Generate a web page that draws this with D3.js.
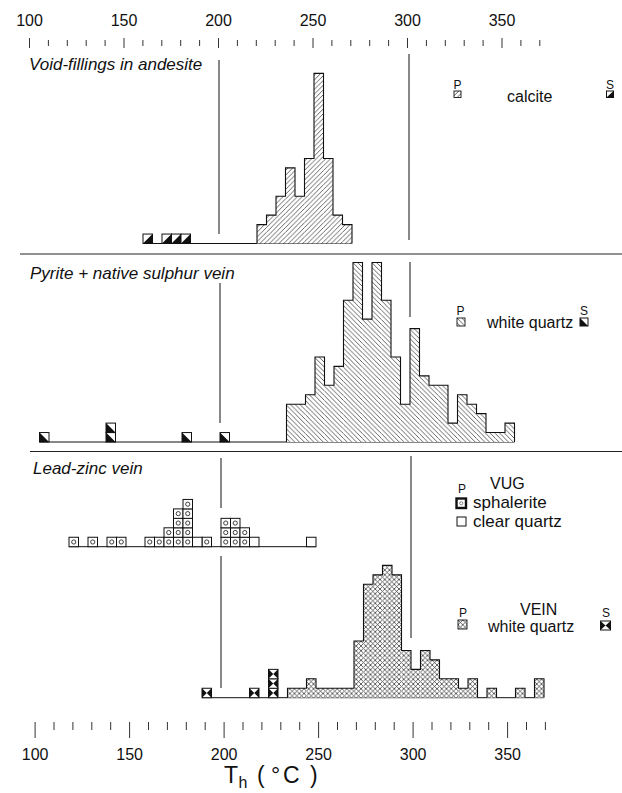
<!DOCTYPE html>
<html>
<head>
<meta charset="utf-8">
<script src="https://cdn.jsdelivr.net/npm/d3@7"></script>
<style>
body { margin: 0; background: #fff; }
text { font-family: "Liberation Sans", Arial, Helvetica, sans-serif; fill: #111; }
</style>
</head>
<body>
<script>
// homogenisation temperatures, 5 degC bins, counts = number of inclusions
const binW = 5;

// void-fillings in andesite (calcite)
const calciteP_T = [220, 225, 230, 235, 240, 245, 250, 255, 260, 265];
const calciteP_n = [2, 3, 5, 8, 5, 9, 18, 9, 3, 2];
const calciteS_T = [160, 170, 175, 180];
const calciteS_n = [1, 1, 1, 1];

// pyrite + native sulphur vein (white quartz)
const pyriteP_T = [235, 240, 245, 250, 255, 260, 265, 270, 275, 280, 285, 290,
                   295, 300, 305, 310, 315, 320, 325, 330, 335, 340, 345, 350];
const pyriteP_n = [4, 4, 5, 9, 6, 8, 15, 19, 13, 19, 15, 9,
                   4, 12, 7, 6, 6, 2, 5, 4, 3, 1, 1, 2];
const pyriteS_T = [105, 140, 180, 200];
const pyriteS_n = [1, 2, 1, 1];

// lead-zinc vein, vug: sphalerite and clear quartz
const vugSph_T = [120, 130, 140, 145, 160, 165, 170, 175, 180, 190, 200, 205, 210];
const vugSph_n = [1, 1, 1, 1, 1, 1, 2, 4, 5, 1, 3, 3, 2];
const vugQtz_T = [185, 215, 245];
const vugQtz_n = [1, 1, 1];

// lead-zinc vein, vein white quartz
const veinP_T = [235, 240, 245, 250, 255, 260, 265, 270, 275, 280, 285, 290,
                 295, 300, 305, 310, 315, 320, 325, 330, 340, 355, 365];
const veinP_n = [1, 1, 2, 1, 1, 1, 1, 6, 12, 13, 14, 13,
                 5, 3, 5, 4, 2, 2, 1, 2, 1, 1, 2];
const veinS_T = [190, 215, 225];
const veinS_n = [1, 1, 3];

// printed axes
const axisTicks = d3.range(100, 371, 10);
const axisLabels = [100, 150, 200, 250, 300, 350];
const refLines = [200, 300];

const W = 622, H = 793;
const svg = d3.select("body").append("svg")
    .attr("width", W)
    .attr("height", H);
svg.append("rect").attr("width", W).attr("height", H).attr("fill", "#fff");

// hatch patterns
const defs = svg.append("defs");
const s = 4.75;
const fwd = `M0,${s}L${s},0M${-s/2},${s/2}L${s/2},${-s/2}M${s/2},${s*1.5}L${s*1.5},${s/2}`;
const back = `M0,0L${s},${s}M${-s/2},${s/2}L${s/2},${s*1.5}M${s/2},${-s/2}L${s*1.5},${s/2}`;
function hatch(id, d) {
  const p = defs.append("pattern")
      .attr("id", id)
      .attr("patternUnits", "userSpaceOnUse")
      .attr("width", s)
      .attr("height", s);
  p.append("rect").attr("width", s).attr("height", s).attr("fill", "#fff");
  p.append("path").attr("d", d).attr("stroke", "#222").attr("stroke-width", 0.7);
}
hatch("hFwd", fwd);
hatch("hBack", back);
hatch("hCross", fwd + back);

// helpers
function panelScales(x200, base) {
  const x = d3.scaleLinear().domain([200, 300]).range([x200, x200 + 190]);
  const y = d3.scaleLinear().domain([0, 1]).range([base, base - 9.45]);
  return { x, y };
}

function drawHist(g, sc, T, N, pat) {
  const bins = T.map((t, i) => ({ t, n: N[i] }));
  g.selectAll("rect.bar").data(bins).join("rect")
      .attr("class", "bar")
      .attr("x", d => sc.x(d.t))
      .attr("y", d => sc.y(d.n))
      .attr("width", d => sc.x(d.t + binW) - sc.x(d.t))
      .attr("height", d => sc.y(0) - sc.y(d.n))
      .attr("fill", `url(#${pat})`);
  // outline per contiguous run
  const runs = [];
  bins.forEach((b, i) => {
    if (i > 0 && b.t === bins[i - 1].t + binW) runs[runs.length - 1].push(b);
    else runs.push([b]);
  });
  const line = d3.line().curve(d3.curveStepAfter);
  runs.forEach(r => {
    const last = r[r.length - 1];
    const pts = [[sc.x(r[0].t), sc.y(0)]]
      .concat(r.map(b => [sc.x(b.t), sc.y(b.n)]))
      .concat([[sc.x(last.t + binW), sc.y(last.n)], [sc.x(last.t + binW), sc.y(0)]]);
    g.append("path").attr("d", line(pts))
        .attr("fill", "none").attr("stroke", "#111").attr("stroke-width", 1.1);
  });
}

function drawUnits(g, sc, T, N, glyph) {
  const units = [];
  T.forEach((t, i) => { for (let k = 0; k < N[i]; k++) units.push({ t, k }); });
  const w = sc.x(200 + binW) - sc.x(200);
  const h = sc.y(0) - sc.y(1);
  g.selectAll("g.unit").data(units).join("g")
      .attr("class", "unit")
      .attr("transform", d => `translate(${sc.x(d.t)},${sc.y(d.k + 1)})`)
      .each(function () { glyph(d3.select(this), w, h); });
}

function box(sel, w, h, sw) {
  sel.append("rect").attr("width", w).attr("height", h)
      .attr("fill", "#fff").attr("stroke", "#111").attr("stroke-width", sw || 1);
}
const glyphCalciteS = (sel, w, h) => {
  box(sel, w, h);
  sel.append("path").attr("d", `M${w},0L${w},${h}L0,${h}Z`).attr("fill", "#111");
};
const glyphPyriteS = (sel, w, h) => {
  box(sel, w, h);
  sel.append("path").attr("d", `M0,0L${w},${h}L0,${h}Z`).attr("fill", "#111");
};
const glyphVeinS = (sel, w, h) => {
  box(sel, w, h);
  sel.append("path")
      .attr("d", `M0,0L${w/2},${h/2}L0,${h}ZM${w},0L${w/2},${h/2}L${w},${h}Z`)
      .attr("fill", "#111");
};
const glyphSph = (sel, w, h) => {
  box(sel, w, h);
  sel.append("circle").attr("cx", w / 2).attr("cy", h / 2).attr("r", 2.1)
      .attr("fill", "none").attr("stroke", "#111").attr("stroke-width", 0.8);
};
const glyphQtz = (sel, w, h) => box(sel, w, h);
const glyphP = pat => (sel, w, h) => {
  sel.append("rect").attr("width", w).attr("height", h)
      .attr("fill", `url(#${pat})`).attr("stroke", "#111").attr("stroke-width", 0.9);
};

function baseline(g, sc, x0, x1) {
  g.append("line")
      .attr("x1", x0).attr("x2", x1)
      .attr("y1", sc.y(0)).attr("y2", sc.y(0))
      .attr("stroke", "#111").attr("stroke-width", 1);
}
function vline(g, xv, y0, y1) {
  g.append("line").attr("x1", xv).attr("x2", xv).attr("y1", y0).attr("y2", y1)
      .attr("stroke", "#111").attr("stroke-width", 1);
}
function title(txt, x, y) {
  svg.append("text").attr("x", x).attr("y", y)
      .attr("font-size", 17).attr("font-style", "italic").text(txt);
}
function label(txt, x, y, size, anchor) {
  svg.append("text").attr("x", x).attr("y", y)
      .attr("font-size", size).attr("text-anchor", anchor || "start").text(txt);
}
function legendBox(x, y, w, h, glyph) {
  glyph(svg.append("g").attr("transform", `translate(${x},${y})`), w, h);
}

// separators
svg.append("line").attr("x1", 20).attr("x2", W).attr("y1", 254).attr("y2", 254)
    .attr("stroke", "#222").attr("stroke-width", 1);
svg.append("line").attr("x1", 30).attr("x2", W).attr("y1", 451.5).attr("y2", 451.5)
    .attr("stroke", "#222").attr("stroke-width", 1);

// ---- panel 1: calcite
const p1 = panelScales(219, 243.5);
const g1 = svg.append("g");
vline(g1, p1.x(refLines[0]), 60, 234);
vline(g1, p1.x(refLines[1]), 54, 240);
baseline(g1, p1, p1.x(calciteS_T[0]), p1.x(calciteP_T[calciteP_T.length - 1] + binW));
drawHist(g1, p1, calciteP_T, calciteP_n, "hFwd");
drawUnits(g1, p1, calciteS_T, calciteS_n, glyphCalciteS);
title("Void-fillings in andesite", 29, 70);
label("P", 457.5, 88.5, 12, "middle");
legendBox(454, 91, 7, 6.5, glyphP("hFwd"));
label("calcite", 507, 101.5, 16);
label("S", 610, 88.5, 12, "middle");
legendBox(606.5, 91, 7, 6.5, glyphCalciteS);

// ---- panel 2: pyrite + native sulphur
const p2 = panelScales(220, 442);
const g2 = svg.append("g");
vline(g2, p2.x(refLines[0]), 283, 423);
vline(g2, p2.x(refLines[1]), 262, 317);
baseline(g2, p2, p2.x(pyriteS_T[0]), p2.x(pyriteP_T[pyriteP_T.length - 1] + binW));
drawHist(g2, p2, pyriteP_T, pyriteP_n, "hBack");
drawUnits(g2, p2, pyriteS_T, pyriteS_n, glyphPyriteS);
title("Pyrite + native sulphur vein", 30, 279);
label("P", 460.5, 315, 12, "middle");
legendBox(457, 318, 8, 8, glyphP("hBack"));
label("white quartz", 487, 327.5, 16);
label("S", 584, 315, 12, "middle");
legendBox(580, 318, 8, 8, glyphPyriteS);

// ---- panel 3: lead-zinc vein
const p3v = panelScales(221, 546.7);
const p3 = panelScales(221, 697.7);
const g3 = svg.append("g");
vline(g3, p3.x(refLines[0]), 458, 508);
vline(g3, p3.x(refLines[0]), 556, 688);
vline(g3, p3.x(refLines[1]), 456, 638);
baseline(g3, p3v, p3v.x(vugSph_T[0]), p3v.x(vugQtz_T[vugQtz_T.length - 1] + binW));
drawUnits(g3.append("g"), p3v, vugSph_T, vugSph_n, glyphSph);
drawUnits(g3.append("g"), p3v, vugQtz_T, vugQtz_n, glyphQtz);
baseline(g3, p3, p3.x(veinS_T[0]), p3.x(veinP_T[veinP_T.length - 1] + binW));
drawHist(g3.append("g"), p3, veinP_T, veinP_n, "hCross");
drawUnits(g3.append("g"), p3, veinS_T, veinS_n, glyphVeinS);
title("Lead-zinc vein", 33, 474);

label("VUG", 490, 489, 16);
label("P", 462, 493, 12, "middle");
legendBox(456.5, 498.5, 9.5, 9.5, (sel, w, h) => {
  box(sel, w, h, 2.4);
  sel.append("circle").attr("cx", w / 2).attr("cy", h / 2).attr("r", 1.6)
      .attr("fill", "none").attr("stroke", "#555").attr("stroke-width", 0.7);
});
label("sphalerite", 473, 507.5, 17);
legendBox(457, 517, 9, 9, glyphQtz);
label("clear quartz", 473, 526.5, 17);

label("P", 463, 617, 12, "middle");
legendBox(458, 620, 9, 9, glyphP("hCross"));
label("VEIN", 520, 615, 16);
label("white quartz", 488, 632, 16);
label("S", 606, 617, 12, "middle");
legendBox(600.5, 621, 10, 9, glyphVeinS);

// ---- printed axes (same 1.89 px/degC scale as the histograms)
const xTop = d3.scaleLinear().domain([100, 350]).range([29, 501.5]);
const xBot = d3.scaleLinear().domain([100, 350]).range([34.6, 507.1]);
const fmt = d => axisLabels.includes(d) ? d : "";

const topAxis = svg.append("g")
    .attr("transform", "translate(0,46)")
    .call(d3.axisTop(xTop).tickValues(axisTicks).tickSize(6).tickPadding(14).tickFormat(fmt));
const botAxis = svg.append("g")
    .attr("transform", "translate(0,722)")
    .call(d3.axisBottom(xBot).tickValues(axisTicks).tickSize(8).tickPadding(19).tickFormat(fmt));

[topAxis, botAxis].forEach(a => {
  a.select(".domain").remove();
  a.selectAll("line").attr("stroke", "#333").attr("stroke-width", 1);
  a.selectAll("text")
      .attr("font-family", "'Liberation Sans', Arial, sans-serif")
      .attr("font-size", 16).attr("fill", "#111");
});
topAxis.selectAll(".tick").filter(d => d % 50 === 0).select("line")
    .attr("y1", 2).attr("y2", -8);
botAxis.selectAll(".tick").filter(d => d % 50 === 0).select("line")
    .attr("y2", 16);

// axis title  T_h ( °C )
const ty = 783;
svg.append("text").attr("x", 224).attr("y", ty).attr("font-size", 23).text("T");
svg.append("text").attr("x", 238.5).attr("y", ty + 5).attr("font-size", 16).text("h");
svg.append("text").attr("x", 257).attr("y", ty).attr("font-size", 23).text("(");
svg.append("text").attr("x", 271).attr("y", ty).attr("font-size", 23).text("°");
svg.append("text").attr("x", 283).attr("y", ty).attr("font-size", 23).text("C");
svg.append("text").attr("x", 310).attr("y", ty).attr("font-size", 23).text(")");
</script>
</body>
</html>
